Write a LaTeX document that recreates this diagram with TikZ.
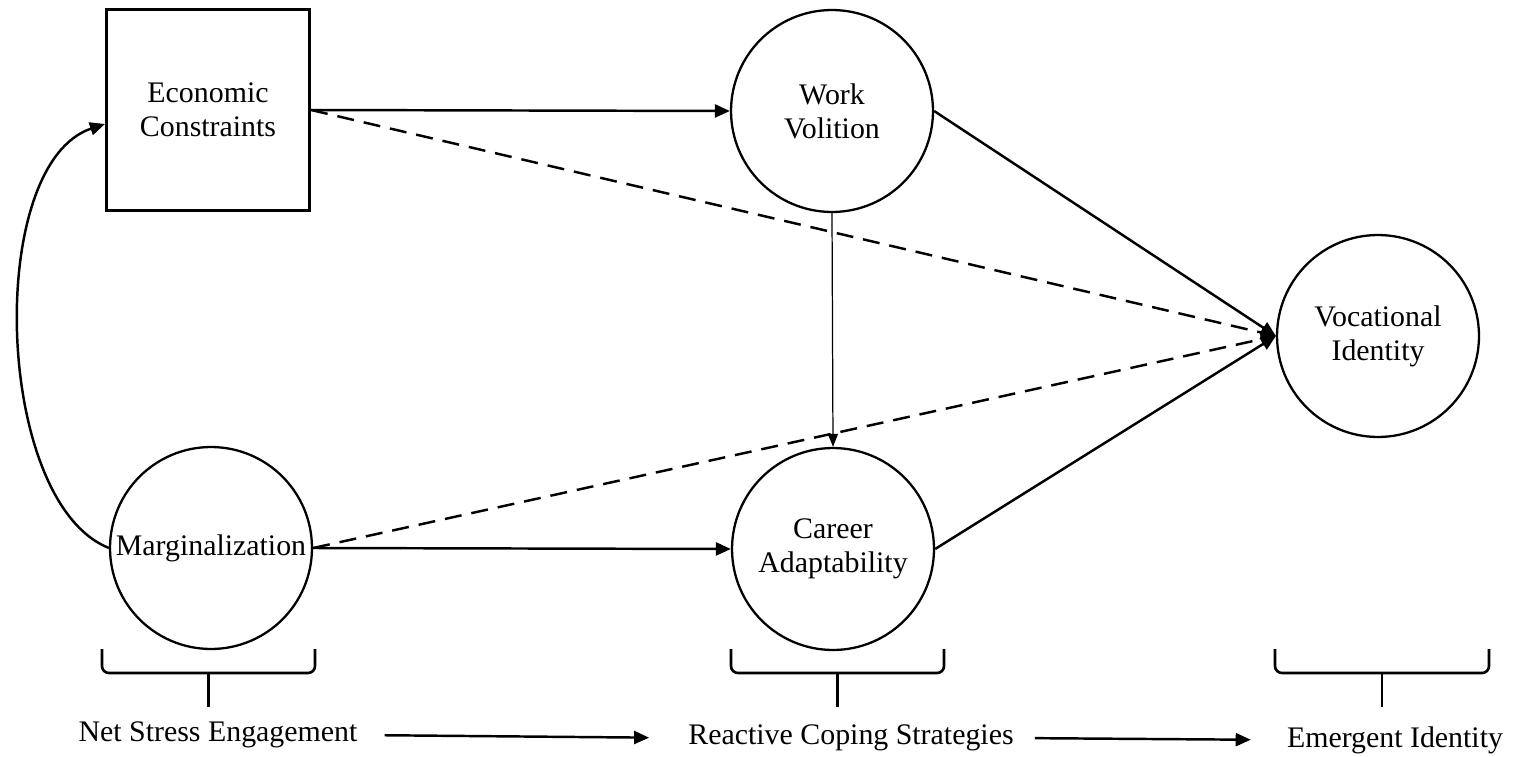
\documentclass[tikz,border=0pt]{standalone}
\usepackage{fontspec}
\setmainfont{Liberation Serif}
\usetikzlibrary{arrows.meta,positioning,calc}

\begin{document}
\begin{tikzpicture}[x=0.02cm,y=-0.02cm,
	every node/.style={font=\fontsize{17}{19.5}\selectfont, align=center, inner sep=0pt},
	var/.style={draw, line width=1.3pt, circle, minimum size=4.04cm},
	obs/.style={draw, line width=1.8pt, rectangle, minimum width=4.06cm, minimum height=4.02cm},
	arr/.style={line width=1.4pt, -{Triangle[length=0.3cm,width=0.26cm]}},
	darr/.style={arr, dash pattern=on 0.34cm off 0.2cm},
	thinarr/.style={line width=0.7pt, -{Triangle[length=0.26cm,width=0.2cm]}},
	bracket/.style={line width=1.5pt, rounded corners=0.14cm}]
	\useasboundingbox (0,0) rectangle (1514,757);
	% variables
	\node[obs] (econ) at (208,110) {Economic\\Constraints};
	\node[var] (work) at (832,111) {Work\\Volition};
	\node[var] (marg) at (211,548) {Marginalization};
	\node[var] (career) at (833,549) {Career\\Adaptability};
	\node[var] (voc) at (1378,336) {Vocational\\Identity};
	% paths
	\draw[arr] (econ.east) -- (work.west);
	\draw[darr] (econ.east) -- (voc.west);
	\draw[arr] (work.east) -- (voc.west);
	\draw[thinarr] (work.south) -- (career.north);
	\draw[arr] (marg.east) -- (career.west);
	\draw[darr] (marg.east) -- (voc.west);
	\draw[arr] (career.east) -- (voc.west);
	\draw[arr] (marg.west) .. controls +(-115,-46) and +(-120,40) .. ($(econ.west)+(0,14)$);
	% brackets
	\foreach \l/\r in {102/315, 731/944, 1275/1489}
	{
		\draw[bracket] (\l,649) -- (\l,673) -- (\r,673) -- (\r,649);
		\draw[line width=1.5pt] ({(\l+\r)/2},673) -- ({(\l+\r)/2},707);
	}
	% stages
	\node (nse) at (218,735) {Net Stress Engagement};
	\node (rcs) at (851,738) {Reactive Coping Strategies};
	\node (ei) at (1395,740) {Emergent Identity};
	\draw[arr, shorten <=0.54cm, shorten >=0.78cm] (nse.east) -- (rcs.west);
	\draw[arr, shorten <=0.42cm, shorten >=0.72cm] (rcs.east) -- (ei.west);
\end{tikzpicture}
\end{document}
